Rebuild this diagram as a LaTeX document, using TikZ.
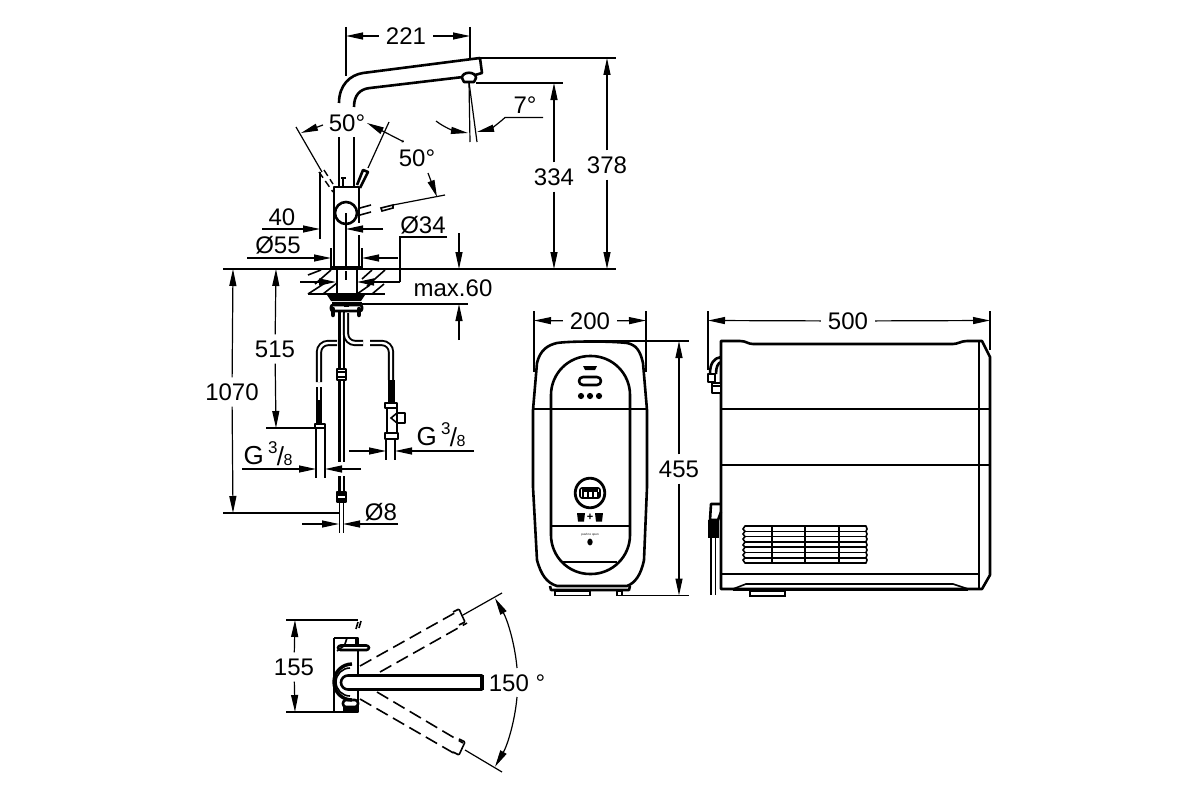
\documentclass[tikz,border=0pt]{standalone}
\usepackage{fontspec}
\setmainfont{Liberation Sans}
\usepackage{tikz}
\usetikzlibrary{arrows.meta, calc}

\newcommand{\gsize}{G\,\raisebox{.40em}{\fontsize{17}{17}\selectfont 3}\kern-.03em\raisebox{-.04em}{/}\kern-.02em\raisebox{-.06em}{\fontsize{16}{16}\selectfont 8}}

\begin{document}
\begin{tikzpicture}[
x=1pt, y=-1pt,
    thinline/.style = {line width=1.2pt},
      midline/.style = {line width=1.6pt},
      outline/.style = {line width=2.6pt, line join=round},
    heavyline/.style = {line width=3.4pt},
     dimarrow/.style = {thinline, -{Triangle[length=17pt,width=7pt]}},
     dimlabel/.style = {font=\fontsize{24}{24}\selectfont, inner xsep=7pt, inner ysep=6pt},
     hosepipe/.style = {line width=1.9pt, double=white, double distance=2.4pt, rounded corners=9pt},
       dashes/.style = {line width=1.6pt, dash pattern=on 13pt off 6pt},
      dashoff/.style = {line width=1.4pt, dash pattern=on 7pt off 4pt}
                    ]
\useasboundingbox (0,0) rectangle (1200,800);
 % spout
\draw[outline] (339,103) .. controls (339,85) and (350,75) .. (363,73) -- (480,58) -- (482,73) -- (475,75);
\draw[outline] (354,107) .. controls (354,95) and (360,89) .. (370,88) -- (463,77);
\draw[outline, fill=white] (462,78) .. controls (462,71) and (476,71) .. (476,78) -- (474,82) -- (464,82) -- cycle;
\draw[thinline] (469,82) -- (470,142);
\draw[thinline] (469,82) -- (477,142);
 % upper body
\draw[outline] (339,137) -- (339,187);
\draw[outline] (354,137) -- (354,187);
\draw[midline] (341,178) -- (346,178) (343,178) -- (343,187);
\draw[outline] (334,267) -- (334,187) -- (359,187) -- (359,223);
\draw[outline] (359,235) -- (359,267);
\draw[outline, fill=white] (346,213) circle (11);
\draw[thinline] (346,213) -- (346,267);
\draw[outline] (357,185) -- (363,170) -- (368,172) -- (360,188);
\draw[dashoff] (319,172) -- (333,192) (324,170) -- (333,184);
\draw[midline] (360,208) -- (371,205) (360,215) -- (371,212);
\draw[midline] (381,208) -- (393,205) -- (393,208) -- (382,211) -- cycle;
\draw[outline] (331,248) -- (331,268) (362,248) -- (362,268);
\draw[heavyline] (330,268) -- (363,268);
 % countertop and fixing
\draw[midline] (223,269) -- (616,269);
\draw[midline] (308,294) -- (385,294);
\draw[outline] (337,269) -- (337,293) (357,269) -- (357,293);
\draw[thinline] (346,271) -- (346,280);
\draw[midline] (308,275) -- (321,270) (315,284) -- (331,270) (308,294) -- (325,283) (323,294) -- (337,283)
                (362,279) -- (372,270) (367,286) -- (385,270) (357,294) -- (370,285) (372,294) -- (384,284);
\draw[thinline] (300,282) -- (318,282);
\draw[dimarrow] (318,282) -- (336,282);
\draw[dimarrow] (400,282) -- (357,282);
\draw[thinline] (447,237) -- (400,237) -- (400,282);
\fill (327,295) -- (365,295) -- (361,301) -- (331,301) -- cycle;
\draw[outline] (332,303) -- (362,303);
\draw[outline, fill=white, rounded corners=2pt] (331,305) rectangle (362,311);
\draw[line width=4.5pt, line cap=round] (333,309) -- (333,315) (359,309) -- (359,315);
\draw[line width=3pt] (344,305) -- (349,305);
 % hoses
\draw[outline] (339.5,312) -- (339.5,462) (344,312) -- (344,462);
\draw[outline] (339.5,476) -- (339.5,495) (344,476) -- (344,495);
\draw[outline, fill=white] (337,492) rectangle (346,502);
\draw[heavyline] (337,494) -- (346,494) (337,500) -- (346,500);
\draw[thinline] (339.5,502) -- (339.5,533) (343.5,502) -- (343.5,533);
\draw[outline, fill=white] (337,369) rectangle (346,380);
\draw[midline] (337,372) -- (346,372) (337,377) -- (346,377);
\draw[hosepipe] (346,313) -- (346,343) -- (363,343);
\draw[hosepipe] (370,343) -- (391,343) -- (391,380);
\draw[hosepipe] (337,343) -- (319,343) -- (319,382);
\draw[hosepipe] (319,387) -- (319,402);
\draw[line width=6pt] (319,400) -- (319,423);
\draw[outline, fill=white] (315,424) rectangle (325,428);
\draw[thinline] (316,428) -- (316,478) (325,428) -- (325,478);
\draw[line width=7pt] (391,380) -- (391,402);
\draw[outline, fill=white] (385,403) rectangle (397,408);
\draw[outline] (387,408) -- (387,433) (397,408) -- (397,413) (397,423) -- (397,433);
\draw[outline, fill=white] (397,413) rectangle (405,423);
\draw[midline] (397,413) -- (391,418) -- (397,423);
\draw[outline, fill=white] (385,433) rectangle (398,439);
\draw[thinline] (386,439) -- (386,460) (395,439) -- (395,460);
 % dimensions of the tap
\draw[thinline] (346,27) -- (346,76) (470,27) -- (470,58);
\node (dim221) [dimlabel] at (406,36) {221};
\draw[dimarrow] (dim221) -- (346,36);
\draw[dimarrow] (dim221) -- (470,36);
\draw[thinline] (480,58) -- (616,58) (476,83) -- (563,83);
\node (dim334) [dimlabel] at (554,177) {334};
\draw[dimarrow] (dim334) -- (554,83);
\draw[dimarrow] (dim334) -- (554,269);
\node (dim378) [dimlabel] at (607,165) {378};
\draw[dimarrow] (dim378) -- (607,58);
\draw[dimarrow] (dim378) -- (607,269);
\node (ang7) [dimlabel] at (525,105) {7°};
\draw[dimarrow] (543,117.5) -- (505,117.5) .. controls (498,124) and (490,129) .. (477,132);
\draw[dimarrow] (436,121) .. controls (445,128) and (455,131) .. (468,133);
\node (ang50a) [dimlabel] at (347,123) {50°};
\node (ang50b) [dimlabel] at (417,158) {50°};
\draw[thinline] (296,127) -- (322,172);
\draw[thinline] (389,122) -- (368,168);
\draw[dimarrow] (323,125) -- (301,133);
\draw[thinline, {Triangle[length=17pt,width=7pt]}-{Triangle[length=2pt,width=3pt]}] (367,123) -- (404,142);
\draw[dimarrow] (428,173) -- (437,197);
\draw[thinline] (445,195) -- (393,205);
\node (dim40) [dimlabel] at (282,217) {40};
\draw[thinline] (320,172) -- (320,239);
\draw[dimarrow] (262,229) -- (320,229);
\draw[dimarrow] (383,229) -- (346,229);
\node (dia55) [dimlabel] at (278,245) {Ø55};
\draw[dimarrow] (247,258) -- (331,258);
\draw[dimarrow] (398,258) -- (362,258);
\node (dia34) [dimlabel] at (423,225) {Ø34};
\node (max60) [dimlabel] at (453,288) {max.60};
\draw[dimarrow] (459,233) -- (459,269);
\draw[thinline] (362,304) -- (468,304);
\draw[dimarrow] (459,340) -- (459,304);
\node (dim515) [dimlabel] at (275,349) {515};
\draw[dimarrow] (dim515) -- (276,269);
\draw[dimarrow] (dim515) -- (276,428);
\draw[thinline] (266,428) -- (316,428);
\node (dim1070) [dimlabel] at (232,392) {1070};
\draw[dimarrow] (dim1070) -- (233,269);
\draw[dimarrow] (dim1070) -- (233,513);
\draw[thinline] (223,513) -- (340,513);
\node (thr1) [dimlabel, font=\fontsize{26}{26}\selectfont] at (268,454) {\gsize};
\draw[dimarrow] (242,469) -- (316,469);
\draw[dimarrow] (361,469) -- (325,469);
\node (thr2) [dimlabel, font=\fontsize{26}{26}\selectfont] at (441,435) {\gsize};
\draw[dimarrow] (349,451) -- (386,451);
\draw[dimarrow] (474,451) -- (395,451);
\node (dia8) [dimlabel] at (381,512) {Ø8};
\draw[dimarrow] (302,524) -- (339,524);
\draw[dimarrow] (398,524) -- (343,524);
 % front of the unit
\draw[outline] (533,410) -- (537,363) .. controls (540,350) and (548,345) .. (557,343) .. controls (570,341) and (610,341) .. (627,343)
    .. controls (636,345) and (640,350) .. (643,363) -- (647,410) -- (647,487) -- (644,560) .. controls (641,575) and (635,583) .. (627,586)
    -- (557,586) .. controls (547,583) and (541,575) .. (537,560) -- (533,487) -- cycle;
\draw[outline] (550,586) -- (551,590) -- (629,590) -- (630,586);
\draw[midline] (555,591) rectangle (590,595.5) (617,591) rectangle (622,595.5);
\draw[outline, rounded corners=39pt] (551,356) rectangle (630,574);
\draw[midline] (533,409) -- (647,409);
\draw[outline] (551,526) -- (630,526);
\draw[midline] (563,562) -- (617,562);
\fill (583,366) -- (597,366) -- (595,370) -- (585,370) -- cycle;
\draw[outline, rounded corners=4pt] (579,377) rectangle (601,385);
\foreach \dotx in {581,590,599} \fill (\dotx,396) circle (3.1);
\draw[line width=2.8pt] (590,493) circle (14.8);
\draw[midline, rounded corners=2pt] (580,488) rectangle (600,498);
\fill (582,489) rectangle (598,492);
\foreach \barx in {583,588,593,598} \fill (\barx-.8,492) rectangle (\barx+.8,497);
\foreach \cupx in {581,599} \fill (\cupx-4,513) -- (\cupx+4,513) -- (\cupx+3,521.5) -- (\cupx-3,521.5) -- cycle;
\node (plus) [font=\bfseries\fontsize{11}{11}\selectfont, inner sep=0pt] at (590,517) {+};
\node (pushtext) [font=\fontsize{3}{3}\selectfont, inner sep=0pt] at (590,535) {push to open};
\fill (590,542) ellipse (2.7 and 3.4);
\node (dim200) [dimlabel] at (590,321) {200};
\draw[thinline] (534,311) -- (534,372) (646,311) -- (646,372);
\draw[dimarrow] (dim200) -- (534,320.5);
\draw[dimarrow] (dim200) -- (646,320.5);
\draw[thinline] (590,341) -- (689,341) (622,595.5) -- (689,595.5);
\node (dim455) [dimlabel] at (679,469) {455};
\draw[dimarrow] (dim455) -- (679,341);
\draw[dimarrow] (dim455) -- (679,595.5);
 % side of the unit
\draw[outline] (721,589) -- (721,341) -- (740,341) .. controls (746,341) and (748,344) .. (753,344) -- (953,344)
    .. controls (958,344) and (961,341) .. (967,341) -- (982,341) -- (990,357) -- (990,575) -- (982,589) -- cycle;
\draw[outline] (979,341) -- (979,589);
\draw[outline] (721,409) -- (990,409);
\draw[midline] (721,465) -- (990,465);
\draw[outline] (721,574) -- (979,574);
\draw[outline] (733,590) -- (968,590);
\draw[midline] (733,589) -- (746,584) -- (953,584) -- (968,589);
\draw[midline] (750,591) rectangle (785,596);
 % vent of the unit
\foreach \venty in {526,531.3,536.6,541.9,547.2,552.5,557.8,563}
  \draw[midline, line cap=round] (745,\venty) -- (866,\venty);
\foreach \ventx in {772,805,839}
  \draw[outline] (\ventx,526) -- (\ventx,563);
\draw[midline] (745,526) -- (743,529) -- (745,531.3) -- (743,534) -- (745,536.6) -- (743,539) -- (745,541.9) -- (743,545) -- (745,547.2) -- (743,550) -- (745,552.5) -- (743,555) -- (745,557.8) -- (743,560) -- (745,563);
\draw[midline] (866,526) -- (867,529) -- (866,531.3) -- (867,534) -- (866,536.6) -- (867,539) -- (866,541.9) -- (867,545) -- (866,547.2) -- (867,550) -- (866,552.5) -- (867,555) -- (866,557.8) -- (867,560) -- (866,563);
 % fittings at the back
\draw[outline] (721,357) .. controls (714,358) and (710,363) .. (710,374);
\draw[outline] (721,362) .. controls (718,363) and (716,367) .. (716,374);
\draw[outline, fill=white] (708,374) rectangle (715,382);
\draw[outline, fill=white] (712,383) rectangle (721,393);
\draw[midline] (712,386) -- (721,386);
\draw[outline] (721,504) -- (711,504) -- (710,520) -- (718,520) -- (721,512);
\fill (708,520) rectangle (719,538);
\draw[midline] (711,538) -- (711,595) (715.5,538) -- (715.5,595);
\node (dim500) [dimlabel] at (848,321) {500};
\draw[thinline] (708,311) -- (708,370) (990,311) -- (990,350);
\draw[dimarrow] (dim500) -- (708,320.5);
\draw[dimarrow] (dim500) -- (990,320.5);
 % tap from above
\draw[outline] (334,638) -- (358,638) -- (358,712) -- (332,712);
\draw[outline] (334,712) -- (334,638);
\draw[outline, fill=white, rounded corners=2.5pt] (338,645.5) rectangle (369,650);
\draw[midline] (345,644) -- (347,638) -- (356,638) -- (356,644);
\draw[midline] (337,651) -- (345,645);
\draw[thinline] (286,620) -- (358,620);
\draw[midline] (358,622) -- (356,629) (361,621) -- (359,628);
\draw[outline, fill=white, rounded corners=3pt] (343,700) rectangle (358,707);
\draw[line width=4pt] (343,709) -- (358,709);
\draw[heavyline, fill=white] (352,664) arc (-90:-270:18);
\draw[outline, fill=white] (482,675.5) -- (348,675.5) arc (-90:-270:7) -- (482,689.5) -- cycle;
\draw[midline] (350,668) arc (-90:-270:14);
\draw[line width=3.5pt] (482,675) -- (482,690);
 % swing of the spout
\draw[dashes] (360,666) -- (460,610);
\draw[dashes] (380,672) -- (467,623);
\draw[dashes] (360,699) -- (457,755);
\draw[dashes] (377,692) -- (463,743);
\draw[midline, rounded corners=1pt] (453,612) -- (459,609) -- (465,622) -- (459,625);
\draw[midline, rounded corners=1pt] (453,752) -- (459,755) -- (465,742) -- (459,739);
\draw[thinline] (463,615) -- (502,593);
\draw[thinline] (465,750) -- (502,772);
\node (ang150) [dimlabel] at (517,683) {150 °};
\draw[dimarrow] (517,668) arc (-5:-30:169);
\draw[dimarrow] (517,697) arc (5:30:169);
\node (dim155) [dimlabel] at (294,667) {155};
\draw[thinline] (286,712) -- (334,712);
\draw[dimarrow] (dim155) -- (295,620);
\draw[dimarrow] (dim155) -- (295,712);
\end{tikzpicture}
\end{document}
